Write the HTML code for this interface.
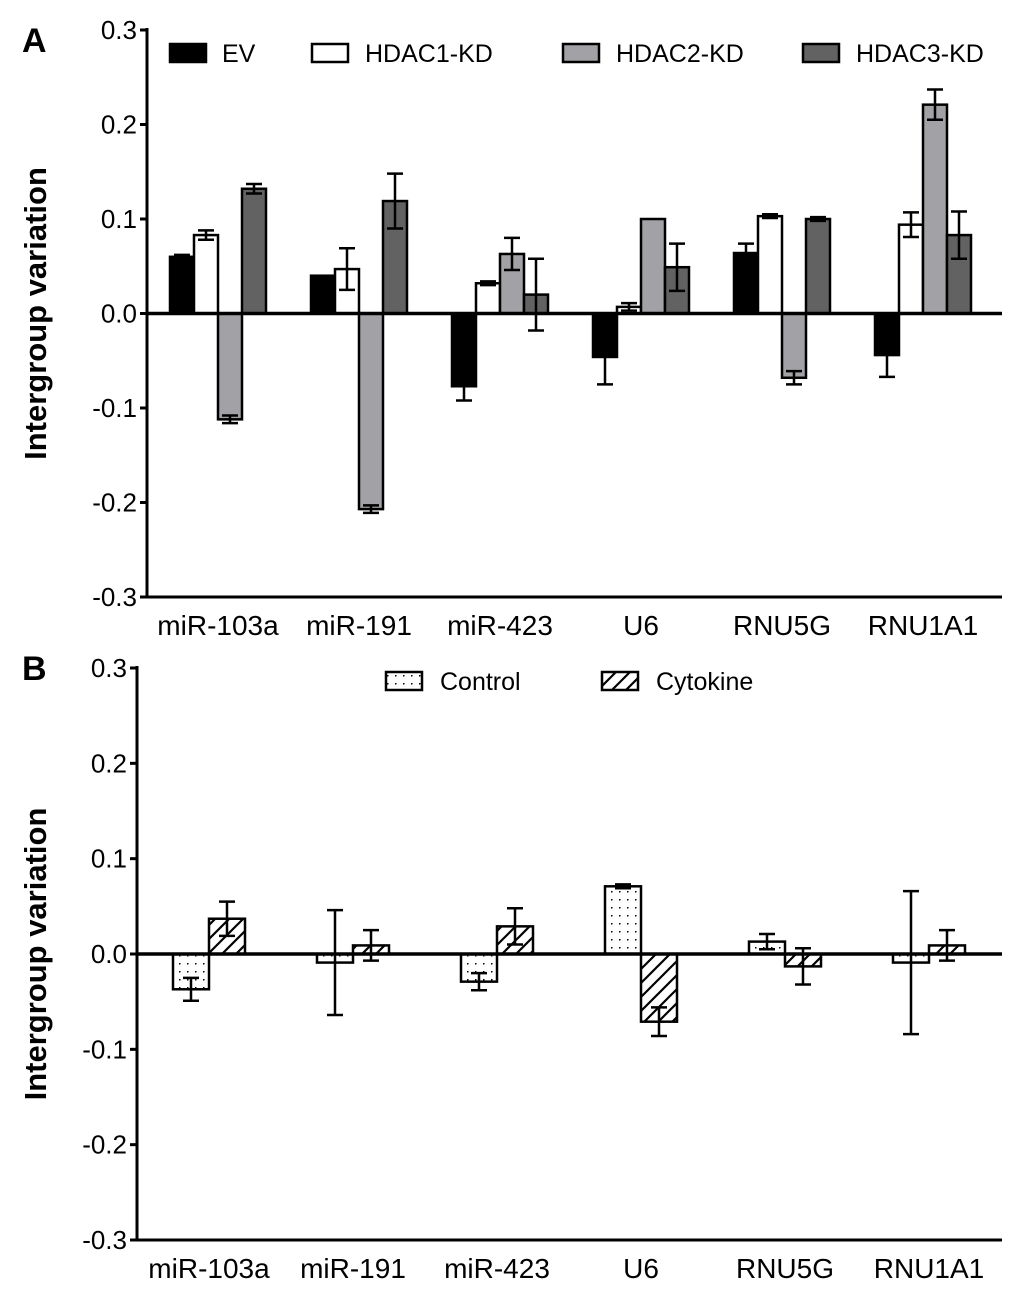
<!DOCTYPE html>
<html><head><meta charset="utf-8"><style>
body{margin:0;background:#fff}
svg text{font-family:"Liberation Sans",Arial,sans-serif}
</style></head><body>
<svg id="c" width="1024" height="1305" viewBox="0 0 1024 1305" xmlns="http://www.w3.org/2000/svg">
<defs>
<pattern id="dots" width="8" height="8" patternUnits="userSpaceOnUse"><rect width="8" height="8" fill="#fff"/><rect x="3" y="3" width="1.5" height="1.5" fill="#000"/></pattern>
<pattern id="hatch" width="14" height="14" patternUnits="userSpaceOnUse"><rect width="14" height="14" fill="#fff"/><path d="M0,14 L14,0 M-3,3 L3,-3 M11,17 L17,11" stroke="#000" stroke-width="2.2"/></pattern>
</defs>
<g id="gA"></g>
<g id="gB"></g>
</svg>
<script>
const categories=["miR-103a","miR-191","miR-423","U6","RNU5G","RNU1A1"];
const ticks=[0.3,0.2,0.1,0.0,-0.1,-0.2,-0.3];
const tickLabels=["0.3","0.2","0.1","0.0","-0.1","-0.2","-0.3"];
const seriesA=["EV","HDAC1-KD","HDAC2-KD","HDAC3-KD"];
const evVals=[0.060,0.040,-0.077,-0.046,0.064,-0.044];
const evErr=[0.002,0.000,0.015,0.029,0.010,0.023];
const h1Vals=[0.083,0.047,0.032,0.007,0.103,0.094];
const h1Err=[0.005,0.022,0.002,0.004,0.002,0.013];
const h2Vals=[-0.112,-0.207,0.063,0.100,-0.068,0.221];
const h2Err=[0.004,0.004,0.017,0.000,0.007,0.016];
const h3Vals=[0.132,0.119,0.020,0.049,0.100,0.083];
const h3Err=[0.005,0.029,0.038,0.025,0.002,0.025];
const seriesB=["Control","Cytokine"];
const ctrlVals=[-0.037,-0.009,-0.029,0.071,0.013,-0.009];
const ctrlErr=[0.012,0.055,0.009,0.002,0.008,0.075];
const cytoVals=[0.037,0.009,0.029,-0.071,-0.013,0.009];
const cytoErr=[0.018,0.016,0.019,0.015,0.019,0.016];

const NS="http://www.w3.org/2000/svg";
function mk(p,t,a,txt){const e=document.createElementNS(NS,t);for(const k in a)e.setAttribute(k,a[k]);if(txt!==undefined)e.textContent=txt;p.appendChild(e);return e;}

function panel(g,cfg){
  const y=v=>cfg.y0+(cfg.ymax-v)/(cfg.ymax-cfg.ymin)*(cfg.y1-cfg.y0);
  const x=(i,s)=>cfg.xStart+i*cfg.gap+s*cfg.bw;
  const lt=mk(g,'text',{x:cfg.letterX,y:cfg.letterY,'font-size':34,'font-weight':'bold'},cfg.letter);
  
  
  const yt=mk(g,'text',{x:0,y:0,'font-size':31,'font-weight':'bold','text-anchor':'middle',transform:`translate(46,${y(0)}) rotate(-90)`},'Intergroup variation');
  
  
  ticks.forEach((t,i)=>{
    mk(g,'line',{x1:cfg.ax-7,x2:cfg.ax,y1:y(t),y2:y(t),stroke:'#000','stroke-width':3});
    const tl=mk(g,'text',{x:cfg.ax-10,y:y(t)+9,'font-size':26,'text-anchor':'end'},tickLabels[i]);
    
    
  });
  cfg.series.forEach((s,si)=>{
    s.vals.forEach((v,i)=>{
      const x0=x(i,si),top=Math.min(y(v),y(0)),h=Math.abs(y(v)-y(0));
      const r=mk(g,'rect',{x:x0,y:top,width:cfg.bw,height:h,fill:s.fill,stroke:'#000','stroke-width':2.5});
      
      
      const e=s.err[i];
      if(e>0.0005){
        const cx=x0+cfg.bw/2,ya=y(v+e),yb=y(v-e);
        const eb=mk(g,'path',{d:`M${cx},${ya}V${yb}M${cx-8},${ya}H${cx+8}M${cx-8},${yb}H${cx+8}`,stroke:'#000','stroke-width':2.5,fill:'none'});
        
        
      }
    });
  });
  mk(g,'line',{x1:cfg.ax,x2:1002,y1:y(0),y2:y(0),stroke:'#000','stroke-width':3.5});
  mk(g,'line',{x1:cfg.ax,x2:1002,y1:cfg.y1,y2:cfg.y1,stroke:'#000','stroke-width':3});
  mk(g,'line',{x1:cfg.ax,x2:cfg.ax,y1:cfg.y0-2,y2:cfg.y1+1.5,stroke:'#000','stroke-width':3});
  categories.forEach((c,i)=>{
    const cx=cfg.xStart+i*cfg.gap+cfg.series.length*cfg.bw/2;
    const xl=mk(g,'text',{x:cx,y:cfg.y1+38,'font-size':28,'text-anchor':'middle'},c);
    
    
  });
  cfg.legend.forEach((l,i)=>{
    const lg=mk(g,'g',{});
    
    
    mk(lg,'rect',{x:l.x,y:cfg.legY,width:l.w,height:cfg.legH,fill:cfg.series[i].fill,stroke:'#000','stroke-width':2.5});
    mk(lg,'text',{x:l.tx,y:cfg.legY+cfg.legH,'font-size':25},cfg.series[i].name);
  });
}
panel(document.getElementById('gA'),{letter:'A',letterX:22,letterY:52,ymax:0.3,ymin:-0.3,y0:30,y1:597,ax:147,xStart:170,gap:141,bw:24,
  series:[{name:seriesA[0],vals:evVals,err:evErr,fill:'#000'},{name:seriesA[1],vals:h1Vals,err:h1Err,fill:'#fff'},{name:seriesA[2],vals:h2Vals,err:h2Err,fill:'#a2a2a6'},{name:seriesA[3],vals:h3Vals,err:h3Err,fill:'#626262'}],
  legY:44,legH:18,legend:[{x:170,w:36,tx:222},{x:312,w:36,tx:365},{x:563,w:36,tx:616},{x:803,w:36,tx:856}]});
panel(document.getElementById('gB'),{letter:'B',letterX:22,letterY:680,ymax:0.3,ymin:-0.3,y0:668,y1:1240,ax:137,xStart:173,gap:144,bw:36,
  series:[{name:seriesB[0],vals:ctrlVals,err:ctrlErr,fill:'url(#dots)'},{name:seriesB[1],vals:cytoVals,err:cytoErr,fill:'url(#hatch)'}],
  legY:672,legH:18,legend:[{x:386,w:36,tx:440},{x:602,w:36,tx:656}]});
</script>
</body></html>
